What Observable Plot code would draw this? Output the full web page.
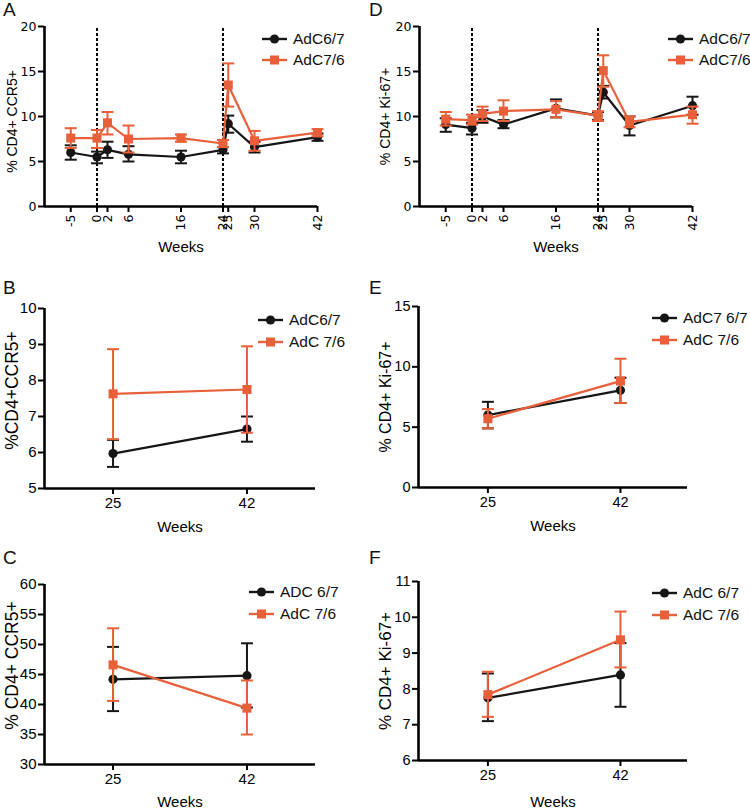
<!DOCTYPE html>
<html><head><meta charset="utf-8">
<script src="https://cdn.jsdelivr.net/npm/d3@7"></script>
<script src="https://cdn.jsdelivr.net/npm/@observablehq/plot@0.6"></script>
<style>
body{margin:0;background:#fff;}
#root{position:relative;width:750px;height:809px;overflow:hidden;font-family:"Liberation Sans",Arial,sans-serif;color:#111;}
.panel{position:absolute;}
.letter{position:absolute;font-size:19px;line-height:19px;}
.leg{position:absolute;height:20px;display:flex;align-items:center;font-size:15.5px;white-space:nowrap;}
.leg svg{margin-right:6px;}
</style></head><body><div id="root"></div>
<script>
// ---------- data ----------
const weeksLong = [-5, 0, 2, 6, 16, 24, 25, 30, 42];
const weeksShort = [25, 42];
const vaccineWeeks = [0, 24];

// Panel A: % CD4+ CCR5+
const aBlackMean = [6.0, 5.5, 6.3, 5.8, 5.5, 6.3, 9.2, 6.6, 7.7];
const aBlackLo   = [5.2, 4.8, 5.4, 5.0, 4.8, 5.9, 8.2, 6.0, 7.3];
const aBlackHi   = [6.8, 6.1, 7.2, 6.7, 6.2, 6.6, 10.1, 7.2, 8.1];
const aOrangeMean = [7.6, 7.6, 9.3, 7.5, 7.6, 7.0, 13.5, 7.3, 8.2];
const aOrangeLo   = [6.5, 6.5, 8.0, 6.0, 7.2, 6.6, 11.1, 6.2, 7.8];
const aOrangeHi   = [8.7, 8.5, 10.5, 9.0, 8.0, 7.4, 15.9, 8.4, 8.6];

// Panel D: % CD4+ Ki-67+
const dBlackMean = [9.1, 8.7, 10.0, 9.1, 10.9, 10.1, 12.7, 9.0, 11.2];
const dBlackLo   = [8.3, 8.0, 9.3, 8.7, 9.9, 9.6, 12.0, 7.9, 10.2];
const dBlackHi   = [9.8, 9.3, 10.7, 9.6, 11.9, 10.5, 13.4, 10.0, 12.2];
const dOrangeMean = [9.7, 9.6, 10.3, 10.6, 10.8, 10.1, 15.1, 9.4, 10.2];
const dOrangeLo   = [9.0, 9.1, 9.5, 9.5, 9.9, 9.5, 13.3, 8.8, 9.2];
const dOrangeHi   = [10.5, 10.2, 11.1, 11.8, 11.7, 10.6, 16.8, 10.0, 11.1];

// Panel B
const bBlackMean = [5.97, 6.65], bBlackLo = [5.6, 6.3], bBlackHi = [6.35, 7.0];
const bOrangeMean = [7.63, 7.75], bOrangeLo = [6.37, 6.55], bOrangeHi = [8.87, 8.95];
// Panel E
const eBlackMean = [6.0, 8.05], eBlackLo = [4.9, 7.0], eBlackHi = [7.1, 9.1];
const eOrangeMean = [5.7, 8.82], eOrangeLo = [4.9, 7.0], eOrangeHi = [6.5, 10.67];
// Panel C
const cBlackMean = [44.2, 44.8], cBlackLo = [38.9, 39.5], cBlackHi = [49.6, 50.2];
const cOrangeMean = [46.6, 39.4], cOrangeLo = [40.6, 35.0], cOrangeHi = [52.7, 44.0];
// Panel F
const fBlackMean = [7.75, 8.39], fBlackLo = [7.1, 7.5], fBlackHi = [8.43, 9.28];
const fOrangeMean = [7.84, 9.37], fOrangeLo = [7.22, 8.6], fOrangeHi = [8.48, 10.16];

const BLACK = "#161616", ORANGE = "#e8603a";
const SANS = '"Liberation Sans", Arial, sans-serif', WIDE = '"DejaVu Sans", sans-serif';

// ---------- helpers ----------
const capSymbol = {draw(ctx, size) { const w = Math.sqrt(size / Math.PI); ctx.moveTo(-w, 0); ctx.lineTo(w, 0); }};

function rowsOf(x, mean, lo, hi) { return x.map((v, i) => ({x: v, y: mean[i], lo: lo[i], hi: hi[i]})); }

function panel(cfg) {
  const {x, black, orange, xDomain, yDomain, yTicks, rotate, yLabel, m, w, h, dashed, t} = cfg;
  const series = [[rowsOf(x, ...black), BLACK, "circle", 4.6], [rowsOf(x, ...orange), ORANGE, "square", 5.1]];
  const marks = [];
  if (dashed) marks.push(Plot.ruleX(dashed, {y1: yDomain[0], y2: yDomain[1], stroke: "#000", strokeWidth: 2, strokeDasharray: "3,2"}));
  for (const [rows, col, sym, r] of series) {
    marks.push(Plot.ruleX(rows, {x: "x", y1: "lo", y2: "hi", stroke: col, strokeWidth: 2}));
    marks.push(Plot.dot(rows, {x: "x", y: "lo", symbol: capSymbol, r: 6, stroke: col, strokeWidth: 2}));
    marks.push(Plot.dot(rows, {x: "x", y: "hi", symbol: capSymbol, r: 6, stroke: col, strokeWidth: 2}));
    marks.push(Plot.line(rows, {x: "x", y: "y", stroke: col, strokeWidth: 2.2}));
    marks.push(Plot.dot(rows, {x: "x", y: "y", symbol: sym, r, fill: col, stroke: "none"}));
  }
  marks.push(Plot.ruleX([xDomain[0]], {y1: yDomain[0], y2: yDomain[1], stroke: "#000", strokeWidth: 2.6}));
  marks.push(Plot.ruleY([yDomain[0]], {x1: xDomain[0], x2: xDomain[1], stroke: "#000", strokeWidth: 2.6}));
  marks.push(Plot.axisY({ticks: yTicks, tickSize: 6, tickPadding: 2, strokeWidth: 2, tickFormat: d => String(d),
    label: null, fontFamily: t.family, fontSize: t.size, fill: "#000"}));
  marks.push(Plot.axisX({ticks: x, tickSize: 6, strokeWidth: 2, tickRotate: rotate ? -90 : 0, tickPadding: rotate ? 2 : 3,
    tickFormat: d => String(d), label: null, fontFamily: t.family, fontSize: t.size, fill: "#000"}));
  marks.push(Plot.text([yLabel], {frameAnchor: "left", rotate: -90, textAnchor: "middle", lineAnchor: "middle",
    dx: cfg.yl.dx, dy: cfg.yl.dy, fontSize: cfg.yl.size, fontFamily: SANS, fill: "#000"}));
  marks.push(Plot.text(["Weeks"], {frameAnchor: "bottom", textAnchor: "middle", lineAnchor: "middle",
    dy: cfg.wk, fontSize: 15, fontFamily: SANS, fill: "#000"}));
  return Plot.plot({
    width: w, height: h,
    marginLeft: m[0], marginRight: m[1], marginTop: m[2], marginBottom: m[3],
    x: {domain: xDomain}, y: {domain: yDomain},
    style: {fontFamily: SANS, color: "#000", background: "transparent", overflow: "visible"},
    marks
  });
}

const panels = [
  {left: 0, top: 0, letter: "A", w: 375, h: 270, m: [44, 58, 26, 64], x: weeksLong, xDomain: [-10, 42], yDomain: [0, 20], yTicks: [0,5,10,15,20], rotate: true,
   black: [aBlackMean, aBlackLo, aBlackHi], orange: [aOrangeMean, aOrangeLo, aOrangeHi], yLabel: "% CD4+ CCR5+", dashed: vaccineWeeks,
   t: {family: WIDE, size: 12.5}, yl: {dx: -32, dy: 5, size: 14}, wk: 41,
   legend: {x: 262, y: [39, 60], names: ["AdC6/7", "AdC7/6"]}},
  {left: 375, top: 0, letter: "D", w: 375, h: 270, m: [44, 58, 26, 64], x: weeksLong, xDomain: [-10, 42], yDomain: [0, 20], yTicks: [0,5,10,15,20], rotate: true,
   black: [dBlackMean, dBlackLo, dBlackHi], orange: [dOrangeMean, dOrangeLo, dOrangeHi], yLabel: "% CD4+ Ki-67+", dashed: vaccineWeeks,
   t: {family: WIDE, size: 12.5}, yl: {dx: -34, dy: 0, size: 14}, wk: 41,
   legend: {x: 668, y: [39, 60], names: ["AdC6/7", "AdC7/6"]}},
  {left: 0, top: 270, letter: "B", w: 375, h: 270, m: [44, 60, 38, 52], x: weeksShort, xDomain: [16.3, 50.7], yDomain: [5, 10], yTicks: [5,6,7,8,9,10], rotate: false,
   black: [bBlackMean, bBlackLo, bBlackHi], orange: [bOrangeMean, bOrangeLo, bOrangeHi], yLabel: "%CD4+CCR5+",
   t: {family: SANS, size: 15}, yl: {dx: -32, dy: -8, size: 17.5}, wk: 38.5,
   legend: {x: 258, y: [320, 342], names: ["AdC6/7", "AdC 7/6"]}},
  {left: 375, top: 270, letter: "E", w: 375, h: 270, m: [43, 63, 36, 53], x: weeksShort, xDomain: [16.1, 50.6], yDomain: [0, 15], yTicks: [0,5,10,15], rotate: false,
   black: [eBlackMean, eBlackLo, eBlackHi], orange: [eOrangeMean, eOrangeLo, eOrangeHi], yLabel: "% CD4+ Ki-67+",
   t: {family: SANS, size: 14.5}, yl: {dx: -33, dy: 0, size: 16}, wk: 39,
   legend: {x: 652, y: [318, 340], names: ["AdC7 6/7", "AdC 7/6"]}},
  {left: 0, top: 540, letter: "C", w: 375, h: 269, m: [44, 60, 44, 45], x: weeksShort, xDomain: [16.3, 50.7], yDomain: [30, 60], yTicks: [30,35,40,45,50,55,60], rotate: false,
   black: [cBlackMean, cBlackLo, cBlackHi], orange: [cOrangeMean, cOrangeLo, cOrangeHi], yLabel: "% CD4+ CCR5+",
   t: {family: SANS, size: 15}, yl: {dx: -32, dy: -9, size: 17.5}, wk: 38,
   legend: {x: 249, y: [592, 614], names: ["ADC 6/7", "AdC 7/6"]}},
  {left: 375, top: 540, letter: "F", w: 375, h: 269, m: [43, 63, 41, 49], x: weeksShort, xDomain: [16.1, 50.6], yDomain: [6, 11], yTicks: [6,7,8,9,10,11], rotate: false,
   black: [fBlackMean, fBlackLo, fBlackHi], orange: [fOrangeMean, fOrangeLo, fOrangeHi], yLabel: "% CD4+ Ki-67+",
   t: {family: SANS, size: 14.5}, yl: {dx: -33, dy: 0, size: 17}, wk: 42,
   legend: {x: 652, y: [593, 615], names: ["AdC 6/7", "AdC 7/6"]}}
];

const root = document.getElementById("root");
for (const p of panels) {
  const div = document.createElement("div");
  div.className = "panel";
  div.style.left = p.left + "px"; div.style.top = p.top + "px";
  div.appendChild(panel(p));
  root.appendChild(div);
  const L = document.createElement("div");
  L.className = "letter"; L.textContent = p.letter;
  L.style.left = (p.left === 0 ? 3 : p.left - 6) + "px"; L.style.top = (p.top + (p.top === 0 ? 0 : 8)) + "px";
  root.appendChild(L);
  p.legend.names.forEach((name, i) => {
    const g = document.createElement("div");
    g.className = "leg";
    g.style.left = p.legend.x + "px"; g.style.top = (p.legend.y[i] - 10) + "px";
    const col = i === 0 ? BLACK : ORANGE;
    const sym = i === 0 ? `<circle cx="12.5" cy="10" r="4.6" fill="${col}"/>` : `<rect x="8" y="5.5" width="9" height="9" fill="${col}"/>`;
    g.innerHTML = `<svg width="25" height="20"><line x1="0" x2="25" y1="10" y2="10" stroke="${col}" stroke-width="2.4"/>${sym}</svg><span>${name}</span>`;
    root.appendChild(g);
  });
}
</script></body></html>
